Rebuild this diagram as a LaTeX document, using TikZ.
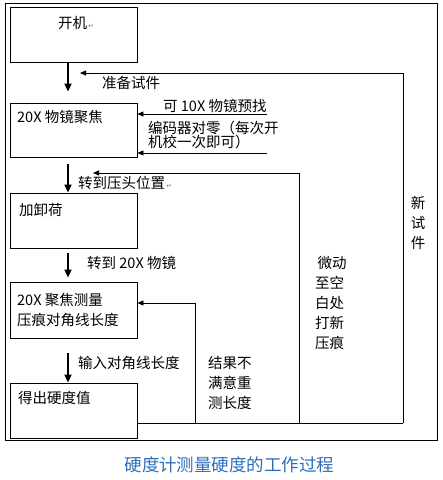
\documentclass[tikz,border=0pt]{standalone}
\usepackage{fontspec}
\setmainfont{Noto Sans CJK SC}
\newfontfamily\symfont{DejaVu Sans}
\usetikzlibrary{arrows.meta,calc,positioning}
\definecolor{capblue}{RGB}{45,110,185}
\newcommand{\parmark}{{\symfont\fontsize{7}{7}\selectfont\color{gray}\,↵}}
\tikzset{
    stepbox/.style={draw, line width=0.9pt, minimum width=127pt, inner sep=0pt},
    downarr/.style={-{Triangle[length=8pt,width=7pt]}, line width=2pt},
    backarr/.style={-{Triangle[length=6pt,width=5pt]}, line width=0.8pt},
    txt/.style={font=\fontsize{14.5}{20}\selectfont, inner sep=0pt, anchor=west, align=left},
    tighttxt/.style={txt, font=\fontsize{14.5}{14}\selectfont}
}
\begin{document}
\begin{tikzpicture}[x=1pt,y=-1pt]
			\useasboundingbox (0,0) rectangle (443,480);
			\draw[line width=0.9pt] (5,3) rectangle (437,440);

			% steps
			\node[stepbox, minimum height=55pt] (b1) at (73.5,34.5) {};
			\node[stepbox, minimum height=54pt] (b2) at (73.5,130) {};
			\node[stepbox, minimum height=55pt] (b3) at (73.5,220.5) {};
			\node[stepbox, minimum height=56pt] (b4) at (73.5,310) {};
			\node[stepbox, minimum height=55pt] (b5) at (73.5,410.5) {};

			\node[txt] (t1) at (58,23) {开机\parmark};
			\node[txt] (t2) at (17,117) {20X 物镜聚焦};
			\node[txt] (t3) at (19,210) {加卸荷};
			\node[txt] (t4) at (17,310) {20X 聚焦测量\\压痕对角线长度};
			\node[txt] (t5) at (18,398) {得出硬度值};

			% main flow
			\draw[downarr] ([xshift=-5.5pt]b1.south) -- ([xshift=-5.5pt,yshift=11pt]b2.north);
			\draw[downarr] ([xshift=-5.5pt,yshift=-7pt]b2.south) -- ([xshift=-5.5pt]b3.north);
			\draw[downarr] ([xshift=-5.5pt,yshift=-5pt]b3.south) -- ([xshift=-5.5pt,yshift=4pt]b4.north);
			\draw[downarr] ([xshift=-5.5pt,yshift=-15pt]b4.south) -- ([xshift=-5.5pt]b5.north);

			\node[txt] (l1) at (102,83) {准备试件};
			\node[txt] (l2) at (78,183) {转到压头位置\parmark};
			\node[txt] (l3) at (87,263) {转到 20X 物镜};
			\node[txt] (l4) at (78,363) {输入对角线长度};

			% encoder / 10X
			\coordinate (e1) at (267,114);
			\coordinate (e2) at (267,153);
			\draw[backarr] (e1) -- (b2.east |- e1);
			\draw[backarr] (e2) -- (b2.east |- e2);
			\node[txt] (n1) at (163,106) {可 10X 物镜预找};
			\node[tighttxt] (n2) at (148,135) {编码器对零（每次开\\机校一次即可）};

			% feedback loops
			\coordinate (c1) at (195,423);
			\coordinate (c2) at (299,423);
			\coordinate (c3) at (403,423);
			\coordinate (tip1) at (80,73);
			\coordinate (tip2) at (93,173);
			\draw[line width=0.8pt] (b5.east |- c3) -- (c3);
			\draw[backarr] (c3) |- (tip1);
			\draw[backarr] (c2) |- (tip2);
			\draw[backarr] (c1) |- ([yshift=7pt]b4.east);

			\node[txt] (f1) at (208,383) {结果不\\满意重\\测长度};
			\node[txt] (f2) at (315,303) {\,微动\\至空\\白处\\打新\\压痕};
			\node[txt, align=center, anchor=center] (f3) at (418,223) {新\\试\\件};

			\node[font=\fontsize{17.5}{20}\selectfont, text=capblue, inner sep=0pt] (cap) at (229.5,465) {硬度计测量硬度的工作过程};
		\end{tikzpicture}
\end{document}
